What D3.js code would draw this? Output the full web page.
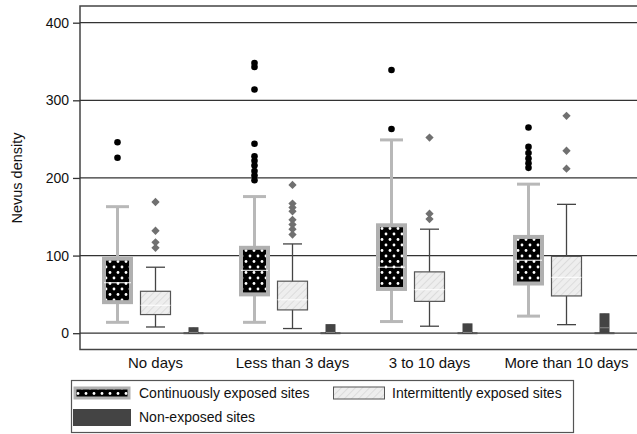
<!DOCTYPE html>
<html>
<head>
<meta charset="utf-8">
<script src="https://cdn.jsdelivr.net/npm/d3@7"></script>
<style>
  body { margin: 0; background: #fff; }
  svg { display: block; font-family: Arial, "Liberation Sans", sans-serif; }
</style>
</head>
<body>
<svg id="chart" width="637" height="434"></svg>
<script>
// categories and series
var categories = ["No days", "Less than 3 days", "3 to 10 days", "More than 10 days"];
var series = ["Continuously exposed sites", "Intermittently exposed sites", "Non-exposed sites"];
var yTicks = [0, 100, 200, 300, 400];

// box stats (lower whisker, q1, median, q3, upper whisker, outliers)
var contLo = [14, 14, 15, 22];
var contQ1 = [40, 50, 57, 64];
var contMed = [65, 81, 85, 94];
var contQ3 = [96, 110, 139, 124];
var contHi = [163, 176, 249, 192];
var contOut = [[246, 226], [348, 343, 314, 244, 228, 222, 216, 209, 203, 197], [339, 263], [265, 240, 232, 225, 219, 213]];

var intLo = [8, 6, 9, 11];
var intQ1 = [24, 30, 41, 48];
var intMed = [36, 43, 56, 72];
var intQ3 = [54, 67, 79, 99];
var intHi = [85, 115, 134, 166];
var intOut = [[169, 132, 117, 110], [191, 167, 162, 157, 146, 140, 134, 127], [252, 154, 147], [280, 235, 212]];

var nonLo = [0, 0, 0, 0];
var nonQ1 = [0, 0, 0, 1];
var nonMed = [1, 1, 1, 7];
var nonQ3 = [7, 11, 12, 25];
var nonHi = [7, 11, 12, 25];

var svg = d3.select("#chart");
var defs = svg.append("defs");

// black box with white dots
var dots = defs.append("pattern").attr("id", "dots")
    .attr("patternUnits", "userSpaceOnUse").attr("width", 8).attr("height", 11);
dots.append("rect").attr("width", 8).attr("height", 11).attr("fill", "#000");
dots.append("circle").attr("cx", 2).attr("cy", 3).attr("r", 1.4).attr("fill", "#fff");
dots.append("circle").attr("cx", 6).attr("cy", 8.5).attr("r", 1.4).attr("fill", "#fff");

// light hatch
var hatch = defs.append("pattern").attr("id", "hatch")
    .attr("patternUnits", "userSpaceOnUse").attr("width", 5).attr("height", 5)
    .attr("patternTransform", "rotate(45)");
hatch.append("rect").attr("width", 5).attr("height", 5).attr("fill", "#eeeeee");
hatch.append("line").attr("x1", 0).attr("y1", 0).attr("x2", 0).attr("y2", 5)
    .attr("stroke", "#d6d6d6").attr("stroke-width", 1.5);

var x = d3.scaleBand().domain(categories).range([87, 635]);
var off = d3.scalePoint().domain(series).range([-38, 38]);
var y = d3.scaleLinear().domain([-21, 421.5]).range([349.5, 6]);

// frame
svg.append("rect").attr("x", 80).attr("y", 6).attr("width", 600).attr("height", 343.5)
    .attr("fill", "none").attr("stroke", "#444").attr("stroke-width", 1.5);

// grid
svg.append("g").selectAll("line").data(yTicks).join("line")
    .attr("x1", 80).attr("x2", 637)
    .attr("y1", d => y(d)).attr("y2", d => y(d))
    .attr("stroke", "#333").attr("stroke-width", 1.3);

// y axis
var yAxis = svg.append("g").attr("transform", "translate(80,0)")
    .call(d3.axisLeft(y).tickValues(yTicks).tickSize(7).tickPadding(4));
yAxis.select(".domain").remove();
yAxis.selectAll(".tick line").attr("stroke", "#333").attr("stroke-width", 1.3);
yAxis.selectAll("text").attr("font-size", 14).attr("fill", "#111").attr("font-family", "Arial, 'Liberation Sans', sans-serif");

svg.append("text").attr("transform", "translate(22,178) rotate(-90)")
    .attr("text-anchor", "middle").attr("font-size", 14.5).attr("fill", "#111")
    .text("Nevus density");

// x labels
svg.append("g").selectAll("text").data(categories).join("text")
    .attr("x", d => x(d) + x.bandwidth() / 2).attr("y", 368)
    .attr("text-anchor", "middle").attr("font-size", 15).attr("fill", "#111")
    .text(d => d);

var styles = [
  { lo: contLo, q1: contQ1, med: contMed, q3: contQ3, hi: contHi, out: contOut,
    w: 27, fill: "url(#dots)", stroke: "#b0b0b0", sw: 4, wc: "#b8b8b8", ww: 3, cap: 23, medc: "#fff" },
  { lo: intLo, q1: intQ1, med: intMed, q3: intQ3, hi: intHi, out: intOut,
    w: 30, fill: "url(#hatch)", stroke: "#555", sw: 1.2, wc: "#444", ww: 1.3, cap: 19, medc: "#fff" },
  { lo: nonLo, q1: nonQ1, med: nonMed, q3: nonQ3, hi: nonHi, out: [[], [], [], []],
    w: 9, fill: "#444", stroke: "#444", sw: 1, wc: "#555", ww: 2, cap: 20, medc: "#888" }
];

styles.forEach(function(s, si) {
  var g = svg.append("g");
  categories.forEach(function(c, ci) {
    var cx = x(c) + x.bandwidth() / 2 + off(series[si]);
    // whiskers
    g.append("line").attr("x1", cx).attr("x2", cx).attr("y1", y(s.hi[ci])).attr("y2", y(s.lo[ci]))
        .attr("stroke", s.wc).attr("stroke-width", s.ww);
    var caps = [s.lo[ci]];
    if (s.hi[ci] > s.q3[ci]) caps.push(s.hi[ci]);
    caps.forEach(function(v) {
      g.append("line").attr("x1", cx - s.cap / 2).attr("x2", cx + s.cap / 2)
          .attr("y1", y(v)).attr("y2", y(v)).attr("stroke", s.wc).attr("stroke-width", s.ww);
    });
    // box
    g.append("rect").attr("x", cx - s.w / 2).attr("y", y(s.q3[ci]))
        .attr("width", s.w).attr("height", Math.max(1, y(s.q1[ci]) - y(s.q3[ci])))
        .attr("fill", s.fill).attr("stroke", s.stroke).attr("stroke-width", s.sw);
    g.append("line").attr("x1", cx - s.w / 2).attr("x2", cx + s.w / 2)
        .attr("y1", y(s.med[ci])).attr("y2", y(s.med[ci]))
        .attr("stroke", s.medc).attr("stroke-width", 1);
    // outliers
    s.out[ci].forEach(function(v) {
      if (si === 0) {
        g.append("circle").attr("cx", cx).attr("cy", y(v)).attr("r", 3.3).attr("fill", "#000");
      } else {
        g.append("path").attr("d", d3.symbol(d3.symbolDiamond2, 44)())
            .attr("transform", "translate(" + cx + "," + y(v) + ")").attr("fill", "#707070");
      }
    });
  });
});

// legend
var lg = svg.append("g");
lg.append("rect").attr("x", 71.5).attr("y", 380.5).attr("width", 502).attr("height", 52)
    .attr("fill", "#fff").attr("stroke", "#555").attr("stroke-width", 1.2);
lg.append("rect").attr("x", 75).attr("y", 388).attr("width", 54).attr("height", 10)
    .attr("fill", "url(#dots)").attr("stroke", "#b0b0b0").attr("stroke-width", 3);
lg.append("rect").attr("x", 333.5).attr("y", 387).attr("width", 51).attr("height", 12)
    .attr("fill", "url(#hatch)").attr("stroke", "#555").attr("stroke-width", 1);
lg.append("rect").attr("x", 73).attr("y", 409).attr("width", 58).attr("height", 17)
    .attr("fill", "#444");
var legText = [
  { t: series[0], x: 139, y: 398 },
  { t: series[1], x: 392, y: 398 },
  { t: series[2], x: 139, y: 422 }
];
lg.selectAll("text").data(legText).join("text")
    .attr("x", d => d.x).attr("y", d => d.y).attr("font-size", 14).attr("fill", "#111")
    .text(d => d.t);
</script>
</body>
</html>
